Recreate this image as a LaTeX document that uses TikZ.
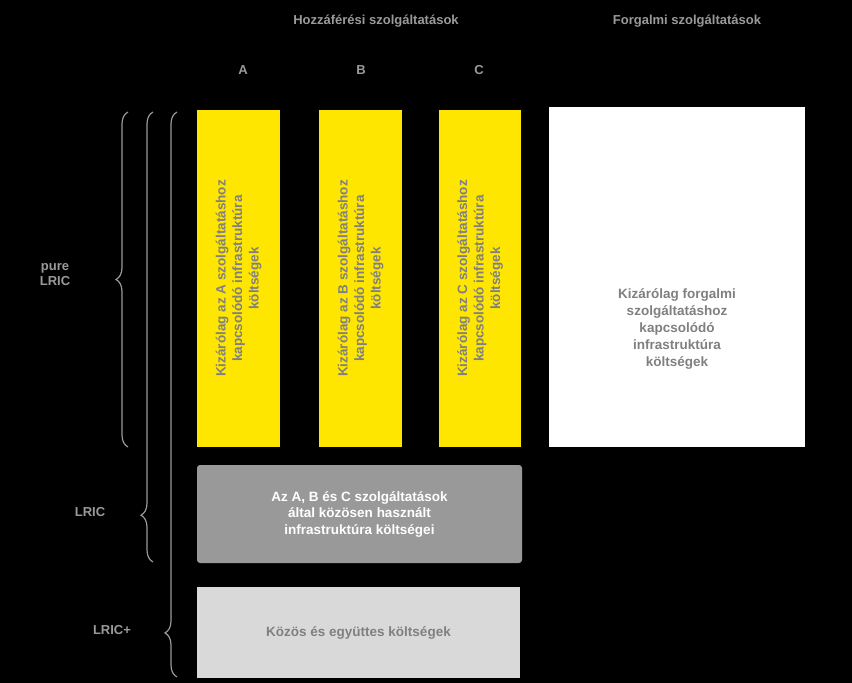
\documentclass[tikz,border=0pt]{standalone}
\usepackage{fontspec}
\setmainfont{Liberation Sans}
\usetikzlibrary{decorations.pathreplacing}
\definecolor{txt}{HTML}{9A9A9A}
\definecolor{ylw}{HTML}{FFE600}
\definecolor{dg}{HTML}{999999}
\definecolor{lg}{HTML}{D9D9D9}
\definecolor{gtx}{HTML}{808080}
\begin{document}
\begin{tikzpicture}[x=1pt,y=-1pt,
  lbl/.style={text=txt,font=\bfseries\fontsize{13}{15}\selectfont,align=center},
  ybox/.style={fill=ylw,draw=none},
  rot/.style={rotate=90,text=gtx,font=\bfseries\fontsize{13.5}{16.5}\selectfont,align=center},
  br/.style={draw=txt,line width=1.2pt,decorate,decoration={brace,amplitude=12pt}}]
\fill[black] (0,0) rectangle (852,683);
\node[lbl] (h1) at (376,21) {Hozzáférési szolgáltatások};
\node[lbl] (h2) at (687,21) {Forgalmi szolgáltatások};
\node[lbl] (la) at (243,70) {A};
\node[lbl] (lb) at (361,70) {B};
\node[lbl] (lc) at (479,70) {C};
\fill[ybox] (197,110) rectangle (280,447);
\fill[ybox] (319,110) rectangle (402,447);
\fill[ybox] (439,110) rectangle (521,447);
\node[rot] (ta) at (238.5,278.5) {Kizárólag az A szolgáltatáshoz\\kapcsolódó infrastruktúra\\költségek};
\node[rot] (tb) at (360.5,278.5) {Kizárólag az B szolgáltatáshoz\\kapcsolódó infrastruktúra\\költségek};
\node[rot] (tc) at (480,278.5) {Kizárólag az C szolgáltatáshoz\\kapcsolódó infrastruktúra\\költségek};
\fill[white] (549,107) rectangle (805,447);
\node[text=gtx,font=\bfseries\fontsize{13.5}{17}\selectfont,align=center] (tf) at (677,329) {Kizárólag forgalmi\\szolgáltatáshoz\\kapcsolódó\\infrastruktúra\\költségek};
\fill[dg,rounded corners=3pt] (197,465) rectangle (522,563);
\node[text=white,font=\bfseries\fontsize{13.5}{16.5}\selectfont,align=center] (td) at (359.5,514) {Az A, B és C szolgáltatások\\által közösen használt\\infrastruktúra költségei};
\fill[lg] (197,587) rectangle (520,678);
\node[text=gtx,font=\bfseries\fontsize{13.5}{16}\selectfont] (tl) at (358.5,633) {Közös és együttes költségek};
\draw[br] (128,447) -- (128,112);
\draw[br,decoration={aspect=0.104}] (153,562) -- (153,112);
\draw[br,decoration={aspect=0.078}] (177,677) -- (177,112);
\node[lbl] (p) at (55,275) {pure\\LRIC};
\node[lbl] (l) at (90,512) {LRIC};
\node[lbl] (lp) at (112,630) {LRIC+};
\end{tikzpicture}
\end{document}
